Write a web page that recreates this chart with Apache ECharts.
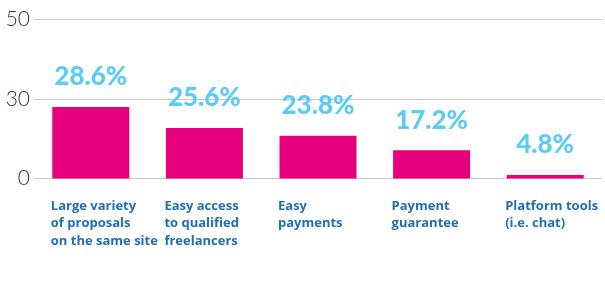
<!DOCTYPE html>
<html><head><meta charset="utf-8">
<script src="https://cdn.jsdelivr.net/npm/echarts@6/dist/echarts.min.js"></script>
<style>html,body{margin:0;padding:0;background:#fff}#c{width:605px;height:285px}</style>
</head><body><div id="c"></div>
<script>
const categories = ["Large variety\nof proposals\non the same site","Easy access\nto qualified\nfreelancers","Easy\npayments","Payment\nguarantee","Platform tools\n(i.e. chat)"];
const barValues = [22.4, 15.8, 13.4, 8.85, 1.1];
const valueLabels = ["28.6%","25.6%","23.8%","17.2%","4.8%"];
const yTickLabels = {0:"0",25:"30",50:"50"};
const chart = echarts.init(document.getElementById('c'));
chart.setOption({
  animation:false,
  grid:{left:34,right:3,top:19,bottom:106.5,containLabel:false},
  xAxis:{type:'category',data:categories,
    axisLine:{show:false},axisTick:{show:false},
    axisLabel:{interval:0,align:'left',verticalAlign:'top',margin:19,padding:[0,0,0,-40],
      color:'#1f6fb5',fontFamily:'Open Sans',fontWeight:'bold',fontSize:13,lineHeight:17.5}},
  yAxis:{type:'value',min:0,max:50,interval:25,
    axisLine:{show:false},axisTick:{show:false},
    splitLine:{lineStyle:{color:'#c8c8c8',width:1}},
    axisLabel:{margin:4,color:'#1d3356',fontFamily:'Lato',fontWeight:300,fontSize:21,
      formatter:v=>yTickLabels[v]}},
  series:[{type:'bar',data:barValues,barWidth:77,
    itemStyle:{color:'#e6007e'},
    label:{show:true,position:'top',distance:17,color:'#5ccbf8',fontFamily:'Lato',fontWeight:900,fontSize:26,
      formatter:p=>valueLabels[p.dataIndex]}}]
});
</script></body></html>
